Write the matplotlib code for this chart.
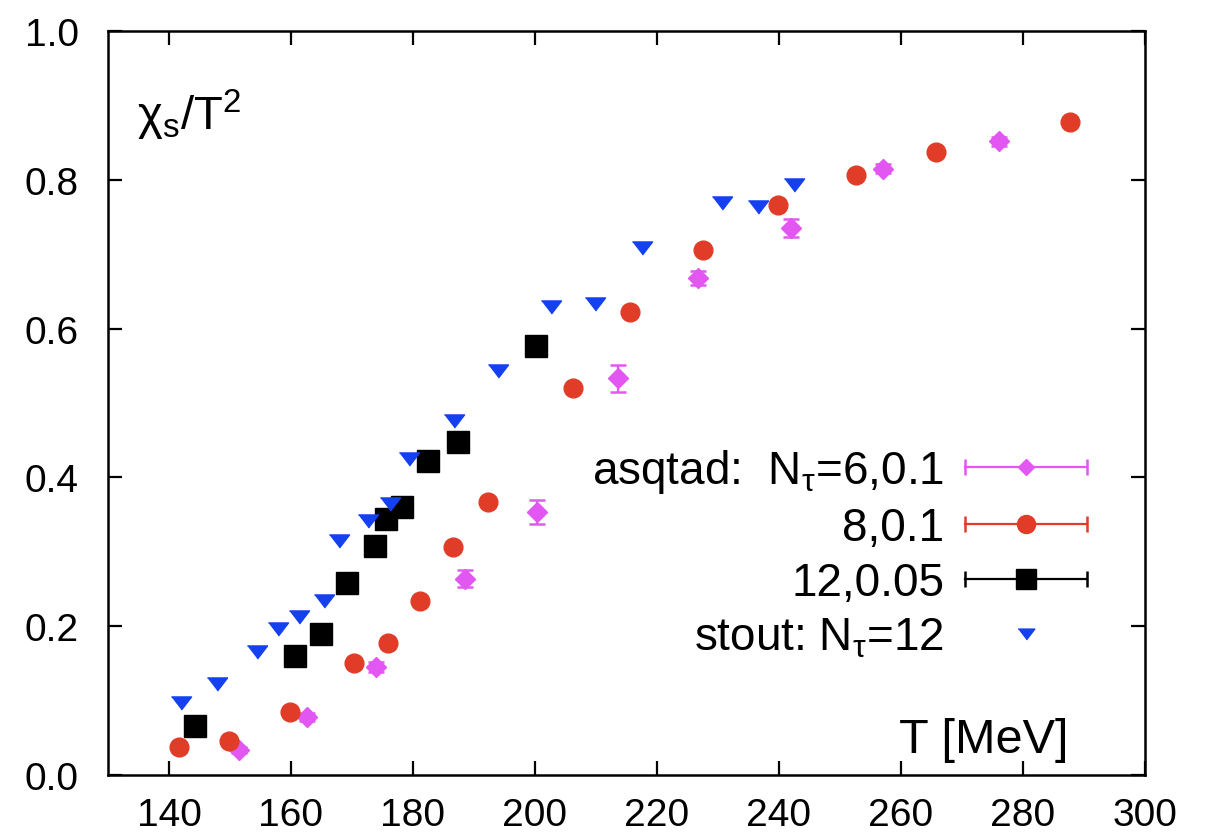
import numpy as np
import matplotlib
matplotlib.use('Agg')
import matplotlib.pyplot as plt
from matplotlib.lines import Line2D
from matplotlib.legend_handler import HandlerLine2D

plt.rcParams['font.family'] = ['Liberation Sans', 'DejaVu Sans']
plt.rcParams['mathtext.fontset'] = 'custom'
plt.rcParams['mathtext.rm'] = 'Liberation Sans'
plt.rcParams['mathtext.it'] = 'Liberation Sans'
plt.rcParams['mathtext.bf'] = 'Liberation Sans:bold'

# asqtad, N_tau = 6, ml/ms = 0.1
t_n6 = [151.4, 162.6, 174.0, 188.6, 200.3, 213.6, 226.8, 241.9, 257.1, 276.0]
chi_n6 = [0.034, 0.078, 0.145, 0.264, 0.353, 0.533, 0.668, 0.735, 0.815, 0.852]
err_n6 = [0.004, 0.005, 0.007, 0.012, 0.016, 0.018, 0.010, 0.012, 0.006, 0.006]

# asqtad, N_tau = 8, ml/ms = 0.1
t_n8 = [141.6, 149.8, 159.9, 170.4, 175.9, 181.1, 186.6, 192.3, 206.2, 215.5,
        227.5, 239.8, 252.6, 265.7, 287.7]
chi_n8 = [0.037, 0.046, 0.084, 0.150, 0.178, 0.234, 0.306, 0.367, 0.520, 0.622,
          0.706, 0.766, 0.806, 0.838, 0.878]
err_n8 = [0.003] * len(t_n8)

# asqtad, N_tau = 12, ml/ms = 0.05
t_n12 = [144.3, 160.7, 164.9, 169.2, 173.7, 175.5, 178.2, 182.5, 187.3, 200.2]
chi_n12 = [0.066, 0.160, 0.190, 0.258, 0.308, 0.344, 0.360, 0.422, 0.448, 0.577]
err_n12 = [0.009, 0.004, 0.004, 0.004, 0.005, 0.005, 0.005, 0.004, 0.005, 0.010]

# stout, N_tau = 12
t_st = [141.9, 147.9, 154.4, 157.9, 161.3, 165.4, 167.8, 172.7, 176.3, 179.4,
        186.8, 194.0, 202.7, 209.8, 217.5, 230.6, 236.6, 242.5]
chi_st = [0.097, 0.122, 0.165, 0.196, 0.212, 0.234, 0.315, 0.342, 0.364, 0.425,
          0.476, 0.543, 0.629, 0.633, 0.708, 0.769, 0.764, 0.793]

c_mag = '#e257f2'
c_red = '#e03c28'
c_blk = '#000000'
c_blu = '#1440f0'
tri = [(-1, 0.65), (1, 0.65), (0, -0.65)]

fig = plt.figure(figsize=(12.12, 8.37), dpi=100)
ax = fig.add_axes([0.0891, 0.0729, 0.8556, 0.8889])

ax.errorbar(t_n6, chi_n6, yerr=err_n6, fmt='D', ms=10, color=c_mag,
            elinewidth=1.6, capsize=6, capthick=1.8, zorder=3)
ax.errorbar(t_n8, chi_n8, yerr=err_n8, fmt='o', ms=13.5, color=c_red,
            elinewidth=1.6, capsize=5, capthick=1.6, zorder=4)
ax.errorbar(t_n12, chi_n12, yerr=err_n12, fmt='s', ms=15.5, color=c_blk,
            elinewidth=1.6, capsize=6, capthick=1.6, zorder=5)
ax.plot(t_st, chi_st, linestyle='none', marker=tri, ms=14.5, color=c_blu, zorder=6)

ax.set_xlim(130, 300)
ax.set_ylim(0, 1)
ax.set_xticks(np.arange(140, 301, 20))
ax.set_yticks(np.arange(0, 1.01, 0.2))
ax.set_yticklabels(['%.1f' % v for v in np.arange(0, 1.01, 0.2)])
ax.tick_params(direction='in', top=True, right=True, length=10, width=1.6,
               labelsize=28, colors='black')
ax.tick_params(axis='x', pad=16)
ax.tick_params(axis='y', pad=21)
for s in ax.spines.values():
    s.set_linewidth(1.8)

ax.text(0.028, 0.888, r'$\mathrm{\chi_s/T^2}$', transform=ax.transAxes,
        fontsize=34, ha='left', va='center')
ax.text(0.926, 0.048, 'T [MeV]', transform=ax.transAxes,
        fontsize=35, ha='right', va='center')

# gnuplot style legend: label on the left, then a line with end caps and the symbol
handles = []
hmap = {}
for col, mk, ms in [(c_mag, 'D', 8), (c_red, 'o', 13), (c_blk, 's', 15)]:
    caps = Line2D([], [], color=col, lw=1.6, marker='|', ms=11, mew=1.8)
    pt = Line2D([], [], color=col, marker=mk, ms=ms, linestyle='none')
    hmap[caps] = HandlerLine2D(numpoints=2)
    handles.append((caps, pt))
handles.append(Line2D([], [], color=c_blu, marker=tri, ms=12, linestyle='none'))
labels = [r'asqtad:  N$_\tau$=6,0.1', '8,0.1', '12,0.05', r'stout: N$_\tau$=12']

ax.legend(handles, labels, handler_map=hmap, loc='lower right',
          bbox_to_anchor=(0.9576, 0.155), frameon=False, markerfirst=False,
          fontsize=33, handlelength=3.27, handletextpad=0.15,
          labelspacing=0.24, borderpad=0, borderaxespad=0)

fig.savefig('out.png', dpi=100)
